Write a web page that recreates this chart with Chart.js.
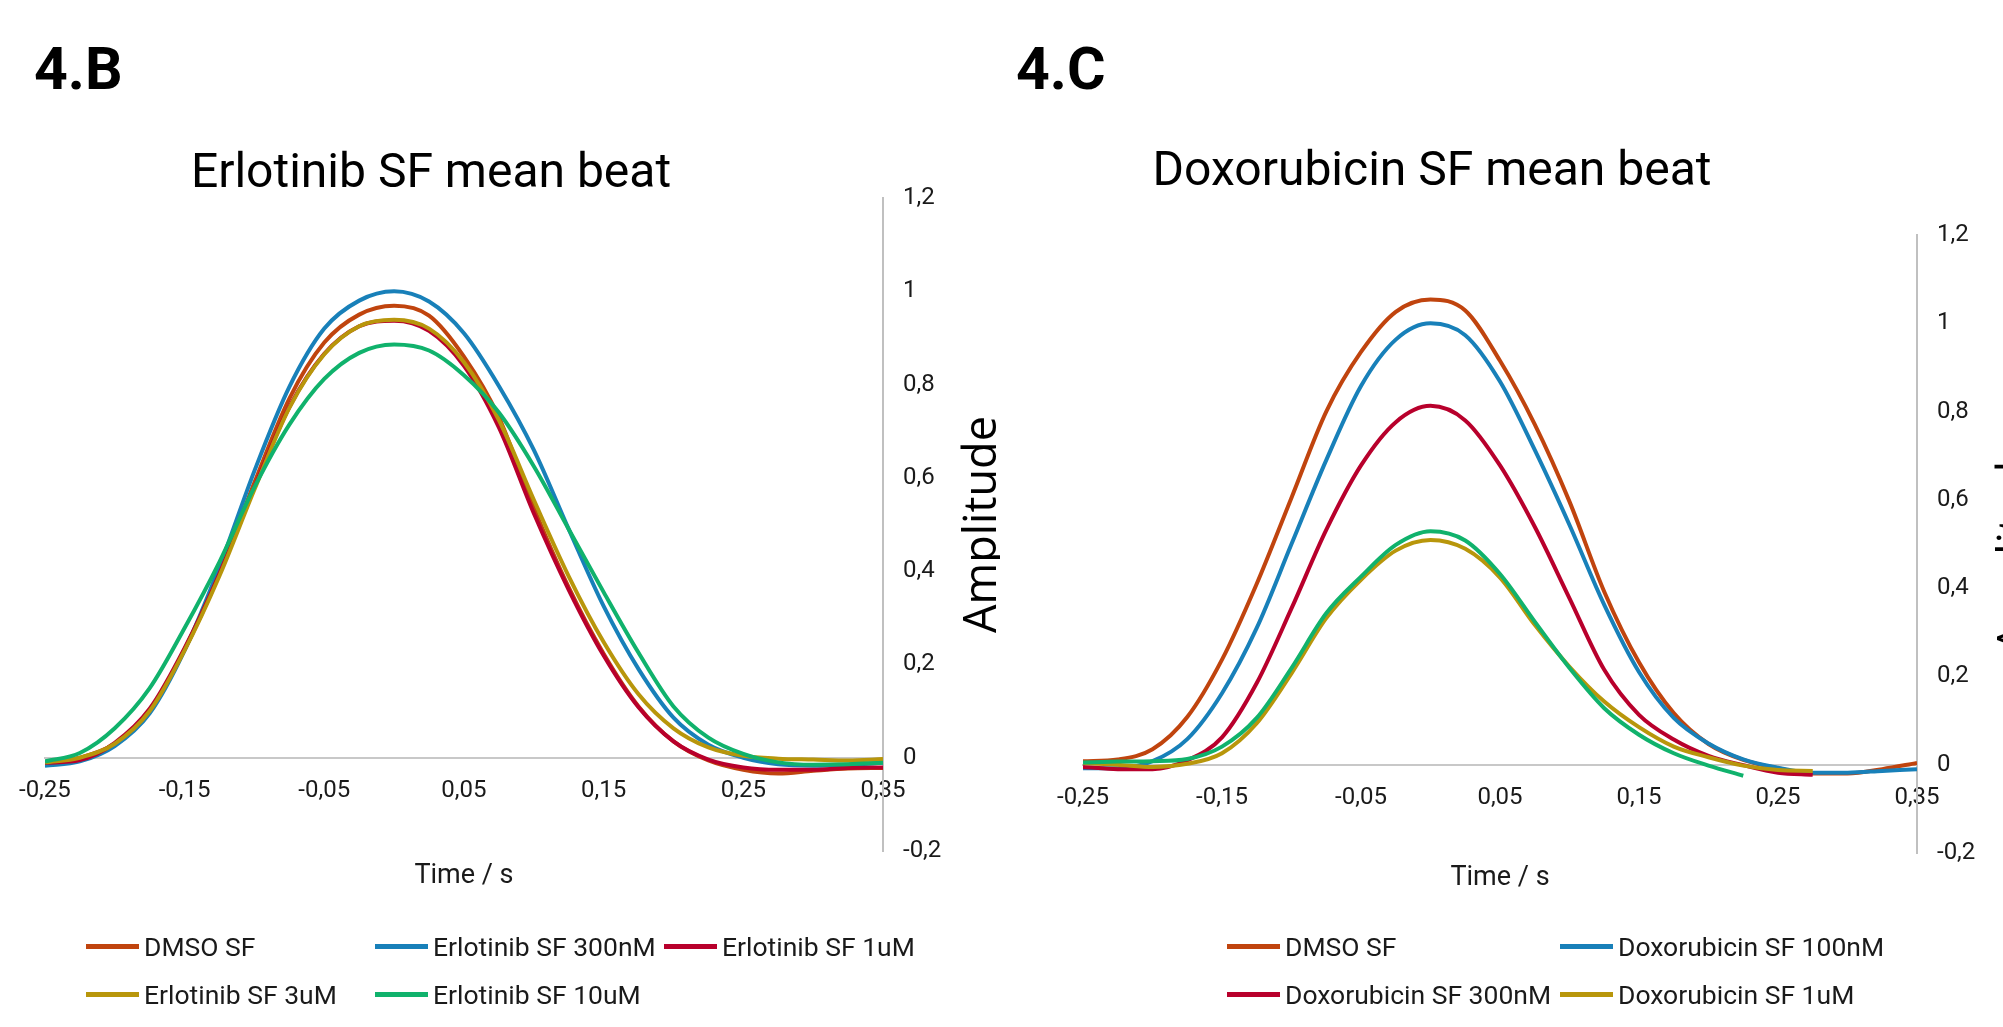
<!DOCTYPE html>
<html>
<head>
<meta charset="utf-8">
<title>Erlotinib / Doxorubicin SF mean beat</title>
<script src="https://cdn.jsdelivr.net/npm/chart.js@4.4.1/dist/chart.umd.min.js"></script>
<style>
  html, body { margin: 0; padding: 0; background: #fff; }
  body { width: 2003px; height: 1027px; overflow: hidden; position: relative; font-family: Roboto, sans-serif; }
  .panel { position: absolute; top: 0; height: 1027px; }
  #panelB { left: 0; width: 1000px; }
  #panelC { left: 1000px; width: 1100px; }
  .legend { position: absolute; top: 922px; display: grid; grid-auto-rows: 48px; align-items: center; font-size: 26.5px; color: #1a1a1a; }
  #legendB { left: 86px; grid-template-columns: repeat(3, 289px); }
  #legendC { left: 1227px; grid-template-columns: repeat(2, 333px); }
  .legend-item { display: flex; align-items: center; white-space: nowrap; }
  .legend-item i { display: inline-block; width: 53px; height: 5px; margin-right: 5px; }
</style>
</head>
<body>
<div class="panel" id="panelB"><canvas id="chartB"></canvas></div>
<div class="panel" id="panelC"><canvas id="chartC"></canvas></div>
<div class="legend" id="legendB"></div>
<div class="legend" id="legendC"></div>
<script>
// time axis (s), shared by both panels
const timeS = [-0.25, -0.225, -0.2, -0.175, -0.15, -0.125, -0.1, -0.075, -0.05, -0.025, 0,
  0.025, 0.05, 0.075, 0.1, 0.125, 0.15, 0.175, 0.2, 0.225, 0.25, 0.275, 0.3, 0.325, 0.35];
const xTickValues = [-0.25, -0.15, -0.05, 0.05, 0.15, 0.25, 0.35];

// 4.B Erlotinib
const erloLabels = ['DMSO SF', 'Erlotinib SF 300nM', 'Erlotinib SF 1uM', 'Erlotinib SF 3uM', 'Erlotinib SF 10uM'];
const erloDmso  = [-0.011, 0.000, 0.030, 0.100, 0.232, 0.395, 0.590, 0.770, 0.890, 0.950, 0.969, 0.948, 0.860, 0.730, 0.536, 0.365, 0.223, 0.110, 0.035, -0.006, -0.026, -0.034, -0.028, -0.023, -0.022];
const erlo300nM = [-0.017, -0.008, 0.025, 0.095, 0.230, 0.410, 0.615, 0.795, 0.920, 0.980, 1.000, 0.978, 0.910, 0.797, 0.660, 0.490, 0.325, 0.190, 0.086, 0.028, 0.000, -0.014, -0.017, -0.015, -0.011];
const erlo1uM   = [-0.011, -0.005, 0.032, 0.105, 0.235, 0.395, 0.580, 0.752, 0.866, 0.925, 0.937, 0.915, 0.840, 0.708, 0.524, 0.360, 0.219, 0.108, 0.035, -0.004, -0.021, -0.026, -0.026, -0.022, -0.021];
const erlo3uM   = [-0.010, 0.000, 0.030, 0.100, 0.230, 0.390, 0.575, 0.750, 0.865, 0.925, 0.939, 0.920, 0.848, 0.724, 0.553, 0.389, 0.248, 0.136, 0.063, 0.022, 0.004, -0.002, -0.004, -0.006, -0.003];
const erlo10uM  = [-0.008, 0.010, 0.063, 0.149, 0.278, 0.420, 0.580, 0.714, 0.812, 0.868, 0.886, 0.873, 0.820, 0.740, 0.625, 0.490, 0.355, 0.225, 0.110, 0.043, 0.008, -0.010, -0.015, -0.014, -0.011];

// 4.C Doxorubicin (the green trace has no legend entry in the figure)
const doxoLabels = ['DMSO SF', 'Doxorubicin SF 100nM', 'Doxorubicin SF 300nM', 'Doxorubicin SF 1uM', ''];
const doxoDmso  = [0.008, 0.012, 0.035, 0.108, 0.238, 0.410, 0.605, 0.800, 0.935, 1.026, 1.054, 1.029, 0.915, 0.771, 0.596, 0.392, 0.232, 0.117, 0.047, 0.011, -0.008, -0.020, -0.020, -0.010, 0.004];
const doxo100nM = [-0.008, -0.008, 0.008, 0.058, 0.162, 0.310, 0.500, 0.690, 0.858, 0.963, 1.000, 0.973, 0.868, 0.713, 0.543, 0.362, 0.210, 0.106, 0.048, 0.012, -0.007, -0.018, -0.018, -0.014, -0.010];
const doxo300nM = [-0.005, -0.010, -0.010, 0.010, 0.062, 0.185, 0.354, 0.532, 0.678, 0.776, 0.813, 0.780, 0.678, 0.539, 0.377, 0.215, 0.113, 0.057, 0.020, -0.001, -0.018, -0.023];
const doxo1uM   = [0.004, 0.000, -0.005, 0.002, 0.026, 0.094, 0.207, 0.332, 0.419, 0.485, 0.509, 0.489, 0.424, 0.317, 0.222, 0.143, 0.085, 0.041, 0.017, -0.002, -0.012, -0.014];
const doxoGreen = [0.005, 0.007, 0.008, 0.013, 0.041, 0.106, 0.219, 0.343, 0.426, 0.498, 0.529, 0.508, 0.432, 0.324, 0.219, 0.128, 0.068, 0.026, -0.002, -0.025];

const seriesColors = ['#c0440e', '#1880b9', '#b8002c', '#b8960b', '#10b26c'];
const textColor = '#1a1a1a';

Chart.defaults.font.family = 'Roboto, sans-serif';

const fmtX = (v) => v.toFixed(2).replace('.', ',');
const fmtY = (v) => String(Math.round(v * 10) / 10).replace('.', ',');

// Panel letter, chart title and the bottom-to-top y title next to the right axis
const panelTextPlugin = {
  id: 'panelText',
  afterDraw(chart, args, opts) {
    const { ctx } = chart;
    const { top, bottom, right } = chart.chartArea;
    ctx.save();
    ctx.fillStyle = '#000';
    ctx.textBaseline = 'alphabetic';

    ctx.font = 'bold 59px Roboto';
    ctx.textAlign = 'left';
    ctx.fillText(opts.panel, opts.panelX, 89);

    ctx.font = '48px Roboto';
    ctx.textAlign = 'center';
    ctx.fillText(opts.title, opts.titleX, opts.titleY);

    ctx.font = '45px "Open Sans"';
    ctx.translate(right + 113, (top + bottom) / 2);
    ctx.rotate(-Math.PI / 2);
    ctx.fillText(opts.yTitle, 0, 0);
    ctx.restore();
  }
};

function toPoints(values) {
  return values.map((v, i) => ({ x: timeS[i], y: v }));
}

function makeDatasets(labels, series) {
  return series.map((values, i) => ({
    label: labels[i],
    data: toPoints(values),
    borderColor: seriesColors[i],
    backgroundColor: seriesColors[i],
    borderWidth: 4,
    pointRadius: 0,
    cubicInterpolationMode: 'monotone',
    order: series.length - i,   // later series drawn on top
  }));
}

function createBeatChart(canvasId, datasets, opts) {
  return new Chart(document.getElementById(canvasId), {
    type: 'line',
    data: { datasets },
    plugins: [panelTextPlugin],
    options: {
      responsive: true,
      maintainAspectRatio: false,
      animation: false,
      events: [],
      layout: { padding: opts.padding },
      scales: {
        x: {
          type: 'linear',
          position: { y: 0 },
          min: -0.25,
          max: 0.35,
          afterBuildTicks(scale) { scale.ticks = xTickValues.map(v => ({ value: v })); },
          ticks: { autoSkip: false, maxRotation: 0, padding: 19, color: textColor, font: { size: 24 }, callback: fmtX },
          grid: { display: false, drawTicks: false },
          border: { display: true, color: '#c8c8c8', width: 2 },
          title: { display: true, text: 'Time / s', color: textColor, font: { size: 27 }, padding: { top: opts.xTitleGap, bottom: 0 } },
        },
        y: {
          type: 'linear',
          position: 'right',
          min: -0.2,
          max: 1.2,
          afterFit(scale) { scale.width = 117; },
          ticks: { stepSize: 0.2, padding: 20, color: textColor, font: { size: 24 }, callback: fmtY },
          grid: { display: false, drawTicks: false },
          border: { display: true, color: '#c0c0c0', width: 2 },
        }
      },
      plugins: {
        legend: { display: false },
        tooltip: { enabled: false },
        panelText: opts.text,
      }
    }
  });
}

function buildLegend(chart, el) {
  chart.data.datasets.forEach((ds) => {
    if (!ds.label) return;
    const item = document.createElement('div');
    item.className = 'legend-item';
    const swatch = document.createElement('i');
    swatch.style.background = ds.borderColor;
    item.appendChild(swatch);
    item.appendChild(document.createTextNode(ds.label));
    el.appendChild(item);
  });
}

const chartB = createBeatChart('chartB',
  makeDatasets(erloLabels, [erloDmso, erlo300nM, erlo1uM, erlo3uM, erlo10uM]),
  {
    padding: { left: 43, right: 0, top: 198, bottom: 176 },
    xTitleGap: 36,
    text: { panel: '4.B', panelX: 34, title: 'Erlotinib SF mean beat', titleX: 431, titleY: 187, yTitle: 'Amplitude' }
  });

const chartC = createBeatChart('chartC',
  makeDatasets(doxoLabels, [doxoDmso, doxo100nM, doxo300nM, doxo1uM, doxoGreen]),
  {
    padding: { left: 83, right: 66, top: 235, bottom: 174 },
    xTitleGap: 31,
    text: { panel: '4.C', panelX: 16, title: 'Doxorubicin SF mean beat', titleX: 432, titleY: 185, yTitle: 'Amplitude' }
  });

buildLegend(chartB, document.getElementById('legendB'));
buildLegend(chartC, document.getElementById('legendC'));
</script>
</body>
</html>
